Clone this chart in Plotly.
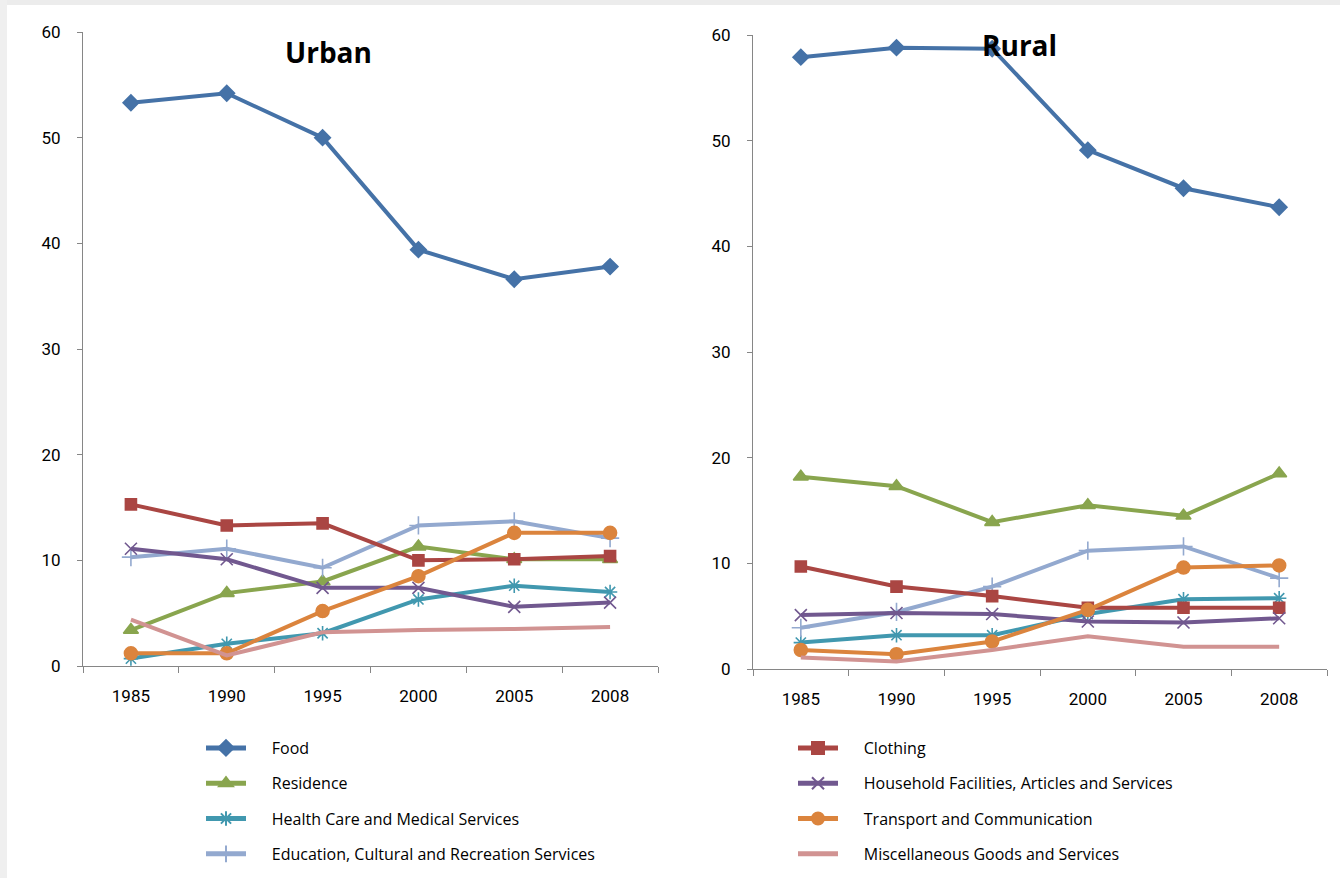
import plotly.graph_objects as go

years = ["1985", "1990", "1995", "2000", "2005", "2008"]

categories = [
    "Food",
    "Clothing",
    "Residence",
    "Household Facilities, Articles and Services",
    "Health Care and Medical Services",
    "Transport and Communication",
    "Education, Cultural and Recreation Services",
    "Miscellaneous Goods and Services",
]

# Share of consumption expenditure (%), urban households
urban_food = [53.3, 54.2, 50.0, 39.4, 36.6, 37.8]
urban_clothing = [15.3, 13.3, 13.5, 10.0, 10.1, 10.4]
urban_residence = [3.4, 6.9, 8.0, 11.3, 10.1, 10.1]
urban_household = [11.1, 10.1, 7.4, 7.4, 5.6, 6.0]
urban_health = [0.7, 2.1, 3.1, 6.3, 7.6, 7.0]
urban_transport = [1.2, 1.2, 5.2, 8.5, 12.6, 12.6]
urban_education = [10.3, 11.1, 9.3, 13.3, 13.7, 12.1]
urban_misc = [4.4, 1.0, 3.2, 3.4, 3.5, 3.7]

# Share of consumption expenditure (%), rural households
rural_food = [57.9, 58.8, 58.7, 49.1, 45.5, 43.7]
rural_clothing = [9.7, 7.8, 6.9, 5.8, 5.8, 5.8]
rural_residence = [18.2, 17.3, 13.9, 15.5, 14.5, 18.5]
rural_household = [5.1, 5.3, 5.2, 4.5, 4.4, 4.8]
rural_health = [2.5, 3.2, 3.2, 5.2, 6.6, 6.7]
rural_transport = [1.8, 1.4, 2.6, 5.6, 9.6, 9.8]
rural_education = [3.9, 5.4, 7.8, 11.2, 11.6, 8.6]
rural_misc = [1.1, 0.7, 1.8, 3.1, 2.1, 2.1]

urban = [urban_food, urban_clothing, urban_residence, urban_household,
         urban_health, urban_transport, urban_education, urban_misc]
rural = [rural_food, rural_clothing, rural_residence, rural_household,
         rural_health, rural_transport, rural_education, rural_misc]

colors = ["#4572A7", "#AA4643", "#89A54E", "#71588F",
          "#4198AF", "#DB843D", "#93A9CF", "#D19392"]
symbols = ["diamond", "square", "triangle-up", "x-thin-open",
           "asterisk-open", "circle", "cross-thin-open", None]
sizes = [12, 11, 13, 12, 12, 13, 13, 0]
# left legend column holds Food, Residence, Health, Education
legend_of = ["legend", "legend2", "legend", "legend2",
             "legend", "legend2", "legend", "legend2"]

# spacing between the legend line and its label
GAP = "\u00a0" * 5

fig = go.Figure()


def add_series(values, name, i, xa, ya, show):
    sym = symbols[i]
    kw = dict(
        x=years, y=values, name=GAP + name, xaxis=xa, yaxis=ya,
        line=dict(color=colors[i], width=4),
        showlegend=show, legend=legend_of[i], legendgroup=name,
    )
    if sym is None:
        kw["mode"] = "lines"
    else:
        kw["mode"] = "lines+markers"
        kw["marker"] = dict(symbol=sym, size=sizes[i], color=colors[i],
                            line=dict(color=colors[i], width=1.6))
    fig.add_trace(go.Scatter(**kw))


# order traces so each legend column reads top to bottom
order = [0, 2, 4, 6, 1, 3, 5, 7]
for i in order:
    add_series(urban[i], categories[i], i, "x", "y", True)
for i in order:
    add_series(rural[i], categories[i], i, "x2", "y2", False)

W, H = 1340, 878
axis_color = "#868686"
tick_font = dict(family="Liberation Sans Narrow, Roboto, sans-serif",
                 size=17, color="#000000")
legend_font = dict(family="Open Sans", size=16, color="#000000")

xcommon = dict(
    type="category", range=[-0.5, 5.5], showline=True, linecolor=axis_color,
    linewidth=1, ticks="outside", ticklen=6, tickcolor=axis_color,
    tickson="boundaries", showgrid=False, zeroline=False,
    tickfont=tick_font, ticklabelstandoff=15, fixedrange=True,
)
ycommon = dict(
    range=[0, 60], dtick=10, showline=True, linecolor=axis_color,
    linewidth=1, ticks="outside", ticklen=5, tickcolor=axis_color,
    showgrid=False, zeroline=False, tickfont=tick_font,
    ticklabelstandoff=13, fixedrange=True,
)

fig.update_layout(
    width=W, height=H,
    margin=dict(l=0, r=0, t=0, b=0, pad=0, autoexpand=False),
    paper_bgcolor="white", plot_bgcolor="white",
    xaxis=dict(domain=[83 / W, 658 / W], anchor="y", **xcommon),
    yaxis=dict(domain=[1 - 666 / H, 1 - 32 / H], anchor="x", **ycommon),
    xaxis2=dict(domain=[753 / W, 1327 / W], anchor="y2", **xcommon),
    yaxis2=dict(domain=[1 - 669 / H, 1 - 35 / H], anchor="x2", **ycommon),
    legend=dict(x=201 / W, y=1 - 731 / H, xanchor="left", yanchor="top",
                orientation="v", tracegroupgap=11.5, itemwidth=40,
                itemsizing="constant",
                font=legend_font, bgcolor="rgba(0,0,0,0)"),
    legend2=dict(x=793 / W, y=1 - 731 / H, xanchor="left", yanchor="top",
                 orientation="v", tracegroupgap=11.5, itemwidth=40,
                 itemsizing="constant",
                 font=legend_font, bgcolor="rgba(0,0,0,0)"),
    annotations=[
        dict(text="<b>Urban</b>", x=328 / W, y=1 - 52 / H, xref="paper",
             yref="paper", xanchor="center", yanchor="middle",
             showarrow=False,
             font=dict(family="Open Sans", size=28, color="#000000")),
        dict(text="<b>Rural</b>", x=1019 / W, y=1 - 45 / H, xref="paper",
             yref="paper", xanchor="center", yanchor="middle",
             showarrow=False,
             font=dict(family="Open Sans", size=28, color="#000000")),
    ],
    shapes=[
        dict(type="rect", xref="paper", yref="paper", x0=0, x1=1,
             y0=1 - 5 / H, y1=1, fillcolor="#ECECEC", line=dict(width=0),
             layer="below"),
        dict(type="rect", xref="paper", yref="paper", x0=0, x1=7 / W,
             y0=0, y1=1, fillcolor="#EFEFEF", line=dict(width=0),
             layer="below"),
    ],
)

fig.write_html("out.html")
